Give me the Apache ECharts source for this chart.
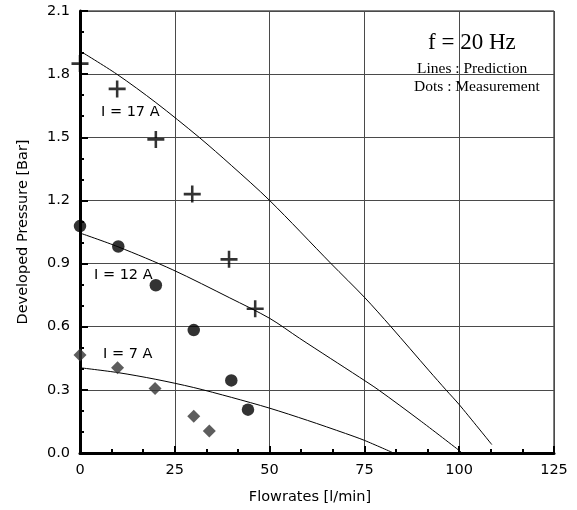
<!DOCTYPE html>
<html>
<head>
<meta charset="utf-8">
<script src="https://cdn.jsdelivr.net/npm/echarts@6/dist/echarts.min.js"></script>
<style>html,body{margin:0;padding:0;background:#fff}#c{width:577px;height:510px}</style>
</head>
<body>
<div id="c"></div>
<script>
// Tick labels
var xTicks = [0, 25, 50, 75, 100, 125];
var yTicks = ['0.0', '0.3', '0.6', '0.9', '1.2', '1.5', '1.8', '2.1'];

// Prediction lines
var predFlow17 = [0, 9.7, 20, 31.4, 40, 50, 66.2, 75, 82, 92.1, 96.5, 100, 108.6];
var predPres17 = [1.91, 1.80, 1.665, 1.50, 1.365, 1.20, 0.90, 0.74, 0.60, 0.39, 0.30, 0.23, 0.04];
var predFlow12 = [0, 10, 24.5, 39.5, 50, 57.9, 66, 73.7, 78.7, 90, 100.5];
var predPres12 = [1.045, 0.98, 0.87, 0.737, 0.64, 0.545, 0.45, 0.36, 0.30, 0.15, 0.005];
var predFlow7 = [0, 10, 20, 30, 40, 50, 60, 70, 75, 82.7];
var predPres7 = [0.405, 0.382, 0.350, 0.311, 0.264, 0.213, 0.155, 0.093, 0.06, 0.0];

// Measurements
var measFlow17 = [0, 9.8, 20, 29.6, 39.3, 46.2];
var measPres17 = [1.85, 1.73, 1.49, 1.23, 0.92, 0.685];
var measFlow12 = [0, 10.1, 20, 30, 39.9, 44.3];
var measPres12 = [1.078, 0.981, 0.797, 0.584, 0.345, 0.206];
var measFlow7 = [0, 9.9, 19.8, 30, 34.1];
var measPres7 = [0.466, 0.405, 0.307, 0.175, 0.104];

function pairs(xs, ys) { return xs.map(function (x, i) { return [x, ys[i]]; }); }

var plusPath = 'path://M-0.15,-1 H0.15 V-0.15 H1 V0.15 H0.15 V1 H-0.15 V0.15 H-1 V-0.15 H-0.15 Z';
var sans = 'DejaVu Sans';
var serif = 'Liberation Serif';

function lineSeries(xs, ys) {
  return { type: 'line', data: pairs(xs, ys), smooth: 0.3, showSymbol: false, symbol: 'none',
    lineStyle: { color: '#000', width: 1 }, z: 3, silent: true };
}

var chart = echarts.init(document.getElementById('c'), null, { renderer: 'canvas' });
chart.setOption({
  animation: false,
  grid: { left: 80, right: 23, top: 11, bottom: 54, show: true, borderColor: '#000', borderWidth: 1, containLabel: false },
  xAxis: {
    type: 'value', min: 0, max: 125, interval: 25,
    name: 'Flowrates [l/min]', nameLocation: 'middle', nameGap: 37,
    nameTextStyle: { fontFamily: sans, fontSize: 14.5, color: '#000', padding: [0, 14, 0, 0] },
    axisLine: { show: true, lineStyle: { color: '#000', width: 3 } },
    axisTick: { show: true, inside: true, length: 7, lineStyle: { color: '#000', width: 2 } },
    minorTick: { show: true, splitNumber: 3, length: 4, lineStyle: { color: '#000', width: 2 } },
    axisLabel: { margin: 10, fontFamily: sans, fontSize: 14.5, color: '#000',
      formatter: function (v) { return xTicks.indexOf(v) >= 0 ? String(v) : ''; } },
    splitLine: { show: true, lineStyle: { color: '#4a4a4a', width: 1 } }
  },
  yAxis: {
    type: 'value', min: 0, max: 2.1, interval: 0.3,
    name: 'Developed Pressure [Bar]', nameLocation: 'middle', nameGap: 49, nameRotate: 90,
    nameTextStyle: { fontFamily: sans, fontSize: 14.5, color: '#000' },
    axisLine: { show: true, lineStyle: { color: '#000', width: 3 } },
    axisTick: { show: true, inside: true, length: 8, lineStyle: { color: '#000', width: 2 } },
    minorTick: { show: true, splitNumber: 3, length: 4, lineStyle: { color: '#000', width: 2 } },
    axisLabel: { margin: 10, fontFamily: sans, fontSize: 14.5, color: '#000',
      formatter: function (v) { return yTicks[Math.round(v / 0.3)]; } },
    splitLine: { show: true, lineStyle: { color: '#4a4a4a', width: 1 } }
  },
  series: [
    lineSeries(predFlow17, predPres17),
    lineSeries(predFlow12, predPres12),
    lineSeries(predFlow7, predPres7),
    { type: 'scatter', data: pairs(measFlow17, measPres17), symbol: plusPath, symbolSize: 17,
      itemStyle: { color: '#000' }, clip: false, z: 5, silent: true },
    { type: 'scatter', data: pairs(measFlow12, measPres12), symbol: 'circle', symbolSize: 12.5,
      itemStyle: { color: '#000' }, clip: false, z: 5, silent: true },
    { type: 'scatter', data: pairs(measFlow7, measPres7), symbol: 'diamond', symbolSize: 13,
      itemStyle: { color: '#353535' }, clip: false, z: 5, silent: true }
  ],
  graphic: [
    { type: 'text', left: 428, top: 31, style: { text: 'f = 20 Hz', font: '23px "' + serif + '"', fill: '#000' }, z: 10 },
    { type: 'text', left: 417, top: 61, style: { text: 'Lines : Prediction', font: '15.5px "' + serif + '"', fill: '#000' }, z: 10 },
    { type: 'text', left: 414, top: 79, style: { text: 'Dots : Measurement', font: '15.5px "' + serif + '"', fill: '#000' }, z: 10 },
    { type: 'text', left: 101, top: 105, style: { text: 'I = 17 A', font: '14.5px "' + sans + '"', fill: '#000' }, z: 10 },
    { type: 'text', left: 94, top: 268, style: { text: 'I = 12 A', font: '14.5px "' + sans + '"', fill: '#000' }, z: 10 },
    { type: 'text', left: 103, top: 347, style: { text: 'I = 7 A', font: '14.5px "' + sans + '"', fill: '#000' }, z: 10 }
  ]
});
</script>
</body>
</html>
